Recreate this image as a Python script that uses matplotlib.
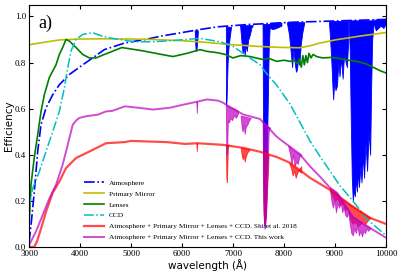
import numpy as np
import matplotlib
matplotlib.use("Agg")
import matplotlib.pyplot as plt

plt.rcParams['font.family'] = ['Liberation Serif', 'DejaVu Serif']
plt.rcParams['mathtext.fontset'] = 'stix'

# ---- data (wavelength in Angstrom, efficiency) ----
atm_wl = [3000, 3040, 3104, 3170, 3235, 3333, 3464, 3595, 3791, 4053, 4248, 4477,
          4880, 5280, 5600, 6000, 6400, 6700, 7000, 7300, 7600, 7900, 8200, 8500,
          8800, 9100, 9400, 9700, 10000]
atm_val = [0.02, 0.096, 0.24, 0.414, 0.53, 0.603, 0.66, 0.704, 0.748, 0.79, 0.82, 0.856,
           0.885, 0.90, 0.915, 0.93, 0.945, 0.955, 0.96, 0.965, 0.968, 0.972, 0.975, 0.977,
           0.979, 0.981, 0.983, 0.985, 0.987]

# telluric absorption bands of the atmosphere: wavelengths, lower envelope, top
atm_bands_wl = [
    [6250, 6265, 6280, 6295, 6310],
    [6860, 6866, 6874, 6882, 6895, 6910, 6930, 6960],
    [7140, 7170, 7190, 7210, 7230, 7250, 7270, 7300, 7330, 7360, 7390],
    [7580, 7595, 7605, 7620, 7640, 7660, 7680, 7700, 7720],
    [7720, 7780, 7850, 7950],
    [8060, 8100, 8130, 8160, 8185, 8210, 8235, 8255, 8280, 8300, 8330, 8360, 8400],
    [8880, 8900, 8930, 8950, 8965, 8985, 9010, 9040, 9065, 9090, 9120, 9150, 9180,
     9210, 9235, 9260],
    [9270, 9290, 9310, 9330, 9350, 9370, 9390, 9410, 9430, 9450, 9470, 9500, 9520,
     9550, 9570, 9600, 9630, 9660, 9690, 9710, 9730, 9760],
    [9760, 9800, 9850, 9900, 9950, 10000],
]
atm_bands_lo = [
    [0.93, 0.86, 0.85, 0.88, 0.93],
    [0.95, 0.62, 0.64, 0.70, 0.80, 0.86, 0.90, 0.95],
    [0.96, 0.88, 0.84, 0.87, 0.83, 0.88, 0.85, 0.90, 0.92, 0.95, 0.962],
    [0.96, 0.30, 0.12, 0.08, 0.15, 0.35, 0.60, 0.85, 0.96],
    [0.95, 0.945, 0.95, 0.96],
    [0.97, 0.92, 0.85, 0.78, 0.86, 0.80, 0.76, 0.77, 0.82, 0.79, 0.88, 0.93, 0.975],
    [0.98, 0.92, 0.80, 0.70, 0.64, 0.72, 0.68, 0.70, 0.80, 0.74, 0.82, 0.73, 0.84,
     0.80, 0.78, 0.90],
    [0.98, 0.85, 0.55, 0.30, 0.20, 0.25, 0.22, 0.30, 0.24, 0.33, 0.26, 0.35, 0.28,
     0.40, 0.30, 0.45, 0.33, 0.50, 0.40, 0.70, 0.90, 0.97],
    [0.97, 0.94, 0.95, 0.96, 0.95, 0.97],
]
atm_bands_top = [0.94, 0.955, 0.962, 0.967, 0.972, 0.975, 0.98, 0.983, 0.986]

mirror_wl = [3000, 3300, 3600, 4000, 4500, 5000, 5400, 6000, 6500, 7000, 7500, 7900,
             8300, 8500, 8700, 9000, 9500, 10000]
mirror_val = [0.877, 0.888, 0.898, 0.902, 0.903, 0.902, 0.90, 0.895, 0.887, 0.877,
              0.87, 0.866, 0.864, 0.872, 0.884, 0.898, 0.915, 0.93]

lens_wl = [3000, 3039, 3104, 3170, 3235, 3300, 3398, 3529, 3595, 3660, 3725, 3791,
           3922, 4053, 4183, 4314, 4477, 4650, 4820, 5080, 5250, 5412, 5600, 5824,
           6100, 6353, 6500, 6686, 6850, 7000, 7150, 7333, 7450, 7588, 7700, 7860,
           8000, 8118, 8200, 8260, 8300, 8340, 8370, 8400, 8430, 8460, 8490, 8530,
           8570, 8650, 8765, 8900, 9040, 9200, 9431, 9600, 9745, 9880, 10000]
lens_val = [0.09, 0.27, 0.39, 0.487, 0.587, 0.66, 0.735, 0.79, 0.835, 0.865, 0.90,
            0.893, 0.865, 0.835, 0.82, 0.82, 0.835, 0.85, 0.865, 0.856, 0.85, 0.843,
            0.835, 0.826, 0.84, 0.856, 0.848, 0.843, 0.835, 0.82, 0.83, 0.826, 0.82,
            0.813, 0.818, 0.805, 0.81, 0.805, 0.81, 0.795, 0.815, 0.78, 0.83, 0.79,
            0.83, 0.80, 0.84, 0.82, 0.835, 0.825, 0.82, 0.822, 0.82, 0.812, 0.805,
            0.795, 0.78, 0.765, 0.755]

ccd_wl = [3000, 3072, 3202, 3333, 3464, 3595, 3693, 3759, 3824, 3922, 4053, 4248,
          4445, 4627, 5078, 5412, 5800, 6353, 6745, 7000, 7333, 7530, 7667, 7863,
          8118, 8314, 8510, 8700, 8900, 9100, 9350, 9630, 10000]
ccd_val = [0.17, 0.255, 0.327, 0.414, 0.50, 0.588, 0.69, 0.777, 0.85, 0.90, 0.922,
           0.929, 0.914, 0.905, 0.89, 0.89, 0.895, 0.905, 0.89, 0.87, 0.82, 0.79,
           0.75, 0.70, 0.62, 0.54, 0.46, 0.395, 0.33, 0.265, 0.20, 0.12, 0.05]

shi_wl = [3000, 3100, 3150, 3250, 3333, 3464, 3595, 3725, 3922, 4183, 4510, 4880,
          5000, 5400, 5700, 6060, 6300, 6800, 7200, 7530, 7860, 8120, 8510, 8900,
          9300, 9690, 10000]
shi_val = [0.0, 0.0, 0.02, 0.09, 0.153, 0.235, 0.284, 0.342, 0.386, 0.414, 0.45,
           0.455, 0.46, 0.457, 0.455, 0.447, 0.45, 0.443, 0.43, 0.413, 0.39, 0.365,
           0.30, 0.248, 0.183, 0.126, 0.10]
shi_bands_wl = [
    [6280, 6290, 6300],
    [6860, 6870, 6880, 6890, 6900, 6920],
    [7150, 7170, 7190, 7210, 7230, 7250, 7280, 7320],
    [7590, 7600, 7615, 7630, 7650, 7680, 7700],
    [8100, 8140, 8170, 8200, 8230, 8260, 8300, 8340],
    [8900, 8950, 9000, 9050, 9100, 9150, 9200, 9250, 9300, 9350, 9400, 9450, 9500,
     9550, 9600, 9650, 9700],
]
shi_bands_lo = [
    [0.45, 0.415, 0.45],
    [0.443, 0.30, 0.28, 0.35, 0.43, 0.443],
    [0.43, 0.40, 0.38, 0.40, 0.37, 0.39, 0.41, 0.42],
    [0.41, 0.15, 0.10, 0.095, 0.15, 0.30, 0.40],
    [0.365, 0.34, 0.31, 0.33, 0.30, 0.32, 0.34, 0.35],
    [0.248, 0.22, 0.20, 0.21, 0.18, 0.19, 0.16, 0.17, 0.12, 0.10, 0.11, 0.09, 0.10,
     0.11, 0.10, 0.12, 0.125],
]
shi_bands_hi = [
    [0.45, 0.45, 0.45],
    [0.443, 0.443, 0.443, 0.443, 0.443, 0.443],
    [0.43, 0.43, 0.43, 0.43, 0.428, 0.427, 0.425, 0.423],
    [0.41, 0.41, 0.408, 0.407, 0.405, 0.403, 0.40],
    [0.365, 0.358, 0.352, 0.347, 0.342, 0.337, 0.330, 0.322],
    [0.248, 0.240, 0.232, 0.224, 0.216, 0.208, 0.199, 0.191, 0.183, 0.176, 0.168,
     0.161, 0.154, 0.147, 0.140, 0.133, 0.126],
]

work_wl = [3000, 3006, 3137, 3268, 3398, 3529, 3660, 3759, 3857, 3930, 3990, 4118,
           4350, 4510, 4627, 4882, 5137, 5430, 5765, 6020, 6294, 6490, 6700, 6804,
           6880, 7000, 7196, 7530, 7725, 7850, 7980, 8118, 8300, 8510, 8706, 8902,
           9040, 9353, 9686, 10000]
work_val = [0.0, 0.01, 0.067, 0.139, 0.21, 0.27, 0.357, 0.443, 0.53, 0.55, 0.56,
            0.567, 0.574, 0.588, 0.59, 0.61, 0.604, 0.596, 0.604, 0.617, 0.63, 0.64,
            0.635, 0.626, 0.615, 0.60, 0.575, 0.555, 0.51, 0.48, 0.457, 0.435, 0.405,
            0.35, 0.305, 0.257, 0.235, 0.13, 0.083, 0.04]
work_bands_wl = [
    [6280, 6290, 6300],
    [6860, 6870, 6885, 6900, 6920, 6950, 6980, 7020, 7060, 7100],
    [7150, 7170, 7190, 7210, 7230, 7250, 7280, 7320, 7350],
    [7580, 7595, 7610, 7630, 7650, 7680, 7700, 7720],
    [8080, 8120, 8150, 8180, 8210, 8240, 8270, 8300, 8340],
    [8900, 8930, 8960, 8990, 9020, 9050, 9080, 9110, 9140, 9170, 9200, 9230, 9260,
     9290, 9320, 9350, 9380, 9410, 9440, 9470, 9500, 9530, 9560, 9590, 9620, 9650,
     9690],
]
work_bands_lo = [
    [0.63, 0.58, 0.63],
    [0.62, 0.40, 0.42, 0.55, 0.54, 0.56, 0.55, 0.57, 0.56, 0.58],
    [0.57, 0.52, 0.50, 0.53, 0.49, 0.52, 0.53, 0.55, 0.56],
    [0.55, 0.20, 0.10, 0.09, 0.15, 0.35, 0.50, 0.52],
    [0.44, 0.40, 0.36, 0.40, 0.35, 0.37, 0.36, 0.39, 0.40],
    [0.25, 0.20, 0.17, 0.20, 0.15, 0.19, 0.17, 0.20, 0.15, 0.17, 0.14, 0.13, 0.15,
     0.10, 0.06, 0.05, 0.08, 0.06, 0.09, 0.05, 0.07, 0.045, 0.07, 0.06, 0.08, 0.07,
     0.08],
]
work_bands_hi = [
    [0.63, 0.63, 0.63],
    [0.62, 0.618, 0.615, 0.612, 0.61, 0.606, 0.603, 0.60, 0.595, 0.59],
    [0.57, 0.569, 0.568, 0.567, 0.566, 0.565, 0.563, 0.561, 0.56],
    [0.545, 0.543, 0.54, 0.535, 0.53, 0.525, 0.52, 0.515],
    [0.44, 0.432, 0.426, 0.42, 0.416, 0.412, 0.408, 0.405, 0.40],
    [0.257, 0.252, 0.247, 0.243, 0.238, 0.232, 0.222, 0.212, 0.202, 0.19, 0.18,
     0.17, 0.16, 0.15, 0.14, 0.13, 0.126, 0.122, 0.118, 0.113, 0.108, 0.104, 0.10,
     0.096, 0.092, 0.088, 0.083],
]

labels = ['Atmosphere', 'Primary Mirror', 'Lenses', 'CCD',
          'Atmosphere + Primary Mirror + Lenses + CCD. Shi et al. 2018',
          'Atmosphere + Primary Mirror + Lenses + CCD. This work']

# ---- plot ----
fig = plt.figure(figsize=(4.07, 2.72), dpi=100)
ax = fig.add_axes([0.0713, 0.092, 0.877, 0.89])

ax.plot(atm_wl, atm_val, '-.', color='b', lw=1.2, label=labels[0])
for wl, lo, top in zip(atm_bands_wl, atm_bands_lo, atm_bands_top):
    ax.fill_between(wl, lo, top, color='b', lw=0.6)

ax.plot(mirror_wl, mirror_val, '-', color='y', lw=1.2, label=labels[1])
ax.plot(lens_wl, lens_val, '-', color='g', lw=1.2, label=labels[2])
ax.plot(ccd_wl, ccd_val, '-.', color='c', lw=1.1, label=labels[3])

ax.plot(shi_wl, shi_val, '-', color='r', alpha=0.7, lw=1.6, label=labels[4])
for wl, lo, hi in zip(shi_bands_wl, shi_bands_lo, shi_bands_hi):
    ax.fill_between(wl, lo, hi, color='r', alpha=0.7, lw=0.6)

ax.plot(work_wl, work_val, '-', color='m', alpha=0.7, lw=1.4, label=labels[5])
for wl, lo, hi in zip(work_bands_wl, work_bands_lo, work_bands_hi):
    ax.fill_between(wl, lo, hi, color='m', alpha=0.7, lw=0.6)

ax.set_xlim(3000, 10000)
ax.set_ylim(0, 1.05)
ax.set_xticks(np.arange(3000, 10001, 1000))
ax.set_yticks([0.0, 0.2, 0.4, 0.6, 0.8, 1.0])
ax.tick_params(direction='in', top=True, right=True, labelsize=6.5, length=3, pad=2)
ax.set_xlabel('wavelength (Å)', family='DejaVu Sans', fontsize=7.5, labelpad=1)
ax.set_ylabel('Efficiency', family='DejaVu Sans', fontsize=7.5, labelpad=1)

ax.text(0.025, 0.905, 'a)', transform=ax.transAxes, fontsize=13, va='baseline')

ax.legend(loc='lower left', bbox_to_anchor=(0.135, 0.0), frameon=False,
          fontsize=5.3, labelspacing=0.65, handlelength=2.8, handletextpad=0.6)

fig.savefig('out.png', dpi=100)
